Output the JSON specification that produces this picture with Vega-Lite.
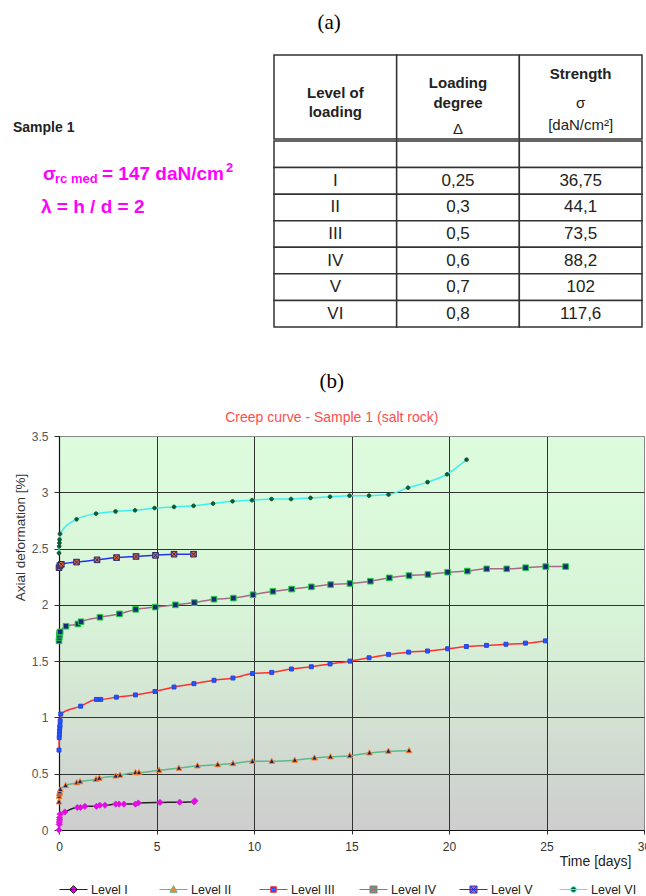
{
  "$schema": "https://vega.github.io/schema/vega-lite/v6.json",
  "padding": {"left": 12, "top": 12, "right": 0, "bottom": 0},
  "background": "white",
  "config": {"font": "Liberation Sans", "view": {"stroke": null}},
  "title": {"text": "(a)", "font": "Liberation Serif", "fontSize": 21, "fontWeight": "normal", "color": "#000", "anchor": "start", "dx": 305, "baseline": "alphabetic", "offset": 4},
  "columns": 1,
  "spacing": 42,
  "datasets": {
    "header": [
      {"col": "level", "b": "Level of\nloading", "r": ""},
      {"col": "degree", "b": "Loading\ndegree", "r": "Δ"},
      {"col": "strength", "b": "Strength", "r": "σ\n[daN/cm²]"}
    ],
    "table": [
      {"level": " ", "degree": "", "strength": ""},
      {"level": "I", "degree": "0,25", "strength": "36,75"},
      {"level": "II", "degree": "0,3", "strength": "44,1"},
      {"level": "III", "degree": "0,5", "strength": "73,5"},
      {"level": "IV", "degree": "0,6", "strength": "88,2"},
      {"level": "V", "degree": "0,7", "strength": "102"},
      {"level": "VI", "degree": "0,8", "strength": "117,6"}
    ],
    "notes": [
      {"level": "I", "main": "σ", "sub": "rc med", "rest": "= 147 daN/cm", "sup": "2", "lam": ""},
      {"level": "II", "main": "", "sub": "", "rest": "", "sup": "", "lam": "λ = h / d = 2"}
    ],
    "creep": [
      {"s": "Level I", "t": 0, "v": 0.0},
      {"s": "Level I", "t": 0.01, "v": 0.05},
      {"s": "Level I", "t": 0.02, "v": 0.07},
      {"s": "Level I", "t": 0.03, "v": 0.09},
      {"s": "Level I", "t": 0.04, "v": 0.11},
      {"s": "Level I", "t": 0.06, "v": 0.14},
      {"s": "Level I", "t": 0.3, "v": 0.16},
      {"s": "Level I", "t": 0.94, "v": 0.2},
      {"s": "Level I", "t": 1.1, "v": 0.2},
      {"s": "Level I", "t": 1.33, "v": 0.21},
      {"s": "Level I", "t": 1.92, "v": 0.21},
      {"s": "Level I", "t": 2.09, "v": 0.22},
      {"s": "Level I", "t": 2.36, "v": 0.22},
      {"s": "Level I", "t": 2.91, "v": 0.23},
      {"s": "Level I", "t": 3.08, "v": 0.23},
      {"s": "Level I", "t": 3.33, "v": 0.23},
      {"s": "Level I", "t": 3.92, "v": 0.23},
      {"s": "Level I", "t": 4.07, "v": 0.24},
      {"s": "Level I", "t": 5.18, "v": 0.245},
      {"s": "Level I", "t": 6.19, "v": 0.247},
      {"s": "Level I", "t": 6.92, "v": 0.25},
      {"s": "Level I", "t": 6.97, "v": 0.26},
      {"s": "Level II", "t": 0, "v": 0.25},
      {"s": "Level II", "t": 0.01, "v": 0.3},
      {"s": "Level II", "t": 0.02, "v": 0.32},
      {"s": "Level II", "t": 0.03, "v": 0.33},
      {"s": "Level II", "t": 0.04, "v": 0.34},
      {"s": "Level II", "t": 0.07, "v": 0.36},
      {"s": "Level II", "t": 0.34, "v": 0.395},
      {"s": "Level II", "t": 0.91, "v": 0.42},
      {"s": "Level II", "t": 1.08, "v": 0.43},
      {"s": "Level II", "t": 1.9, "v": 0.45},
      {"s": "Level II", "t": 2.07, "v": 0.46},
      {"s": "Level II", "t": 2.91, "v": 0.48},
      {"s": "Level II", "t": 3.13, "v": 0.487},
      {"s": "Level II", "t": 3.92, "v": 0.51},
      {"s": "Level II", "t": 4.1, "v": 0.51},
      {"s": "Level II", "t": 5.13, "v": 0.53},
      {"s": "Level II", "t": 6.15, "v": 0.55},
      {"s": "Level II", "t": 7.1, "v": 0.57},
      {"s": "Level II", "t": 8.14, "v": 0.58},
      {"s": "Level II", "t": 8.92, "v": 0.59},
      {"s": "Level II", "t": 9.92, "v": 0.61},
      {"s": "Level II", "t": 10.91, "v": 0.61},
      {"s": "Level II", "t": 12.09, "v": 0.62},
      {"s": "Level II", "t": 13.1, "v": 0.64},
      {"s": "Level II", "t": 13.92, "v": 0.65},
      {"s": "Level II", "t": 14.91, "v": 0.66},
      {"s": "Level II", "t": 15.92, "v": 0.685},
      {"s": "Level II", "t": 16.89, "v": 0.7},
      {"s": "Level II", "t": 17.95, "v": 0.705},
      {"s": "Level III", "t": 0, "v": 0.71},
      {"s": "Level III", "t": 0.01, "v": 0.82},
      {"s": "Level III", "t": 0.02, "v": 0.85},
      {"s": "Level III", "t": 0.03, "v": 0.88},
      {"s": "Level III", "t": 0.04, "v": 0.91},
      {"s": "Level III", "t": 0.05, "v": 0.93},
      {"s": "Level III", "t": 0.06, "v": 0.97},
      {"s": "Level III", "t": 0.09, "v": 1.03},
      {"s": "Level III", "t": 1.11, "v": 1.1},
      {"s": "Level III", "t": 1.92, "v": 1.16},
      {"s": "Level III", "t": 2.14, "v": 1.16},
      {"s": "Level III", "t": 2.94, "v": 1.18},
      {"s": "Level III", "t": 3.92, "v": 1.2},
      {"s": "Level III", "t": 4.92, "v": 1.23},
      {"s": "Level III", "t": 5.9, "v": 1.27},
      {"s": "Level III", "t": 6.92, "v": 1.3},
      {"s": "Level III", "t": 7.95, "v": 1.33},
      {"s": "Level III", "t": 8.92, "v": 1.35},
      {"s": "Level III", "t": 9.92, "v": 1.39},
      {"s": "Level III", "t": 10.91, "v": 1.4},
      {"s": "Level III", "t": 11.92, "v": 1.43},
      {"s": "Level III", "t": 12.94, "v": 1.45},
      {"s": "Level III", "t": 13.9, "v": 1.475},
      {"s": "Level III", "t": 14.92, "v": 1.5},
      {"s": "Level III", "t": 15.9, "v": 1.53},
      {"s": "Level III", "t": 16.9, "v": 1.56},
      {"s": "Level III", "t": 17.93, "v": 1.58},
      {"s": "Level III", "t": 18.9, "v": 1.59},
      {"s": "Level III", "t": 19.93, "v": 1.61},
      {"s": "Level III", "t": 20.89, "v": 1.63},
      {"s": "Level III", "t": 21.92, "v": 1.64},
      {"s": "Level III", "t": 22.92, "v": 1.65},
      {"s": "Level III", "t": 23.92, "v": 1.66},
      {"s": "Level III", "t": 24.94, "v": 1.68},
      {"s": "Level IV", "t": 0, "v": 1.68},
      {"s": "Level IV", "t": 0.01, "v": 1.71},
      {"s": "Level IV", "t": 0.02, "v": 1.73},
      {"s": "Level IV", "t": 0.03, "v": 1.75},
      {"s": "Level IV", "t": 0.06, "v": 1.76},
      {"s": "Level IV", "t": 0.36, "v": 1.81},
      {"s": "Level IV", "t": 0.97, "v": 1.83},
      {"s": "Level IV", "t": 1.13, "v": 1.85},
      {"s": "Level IV", "t": 2.1, "v": 1.89},
      {"s": "Level IV", "t": 3.1, "v": 1.92},
      {"s": "Level IV", "t": 3.93, "v": 1.96},
      {"s": "Level IV", "t": 4.94, "v": 1.98},
      {"s": "Level IV", "t": 5.97, "v": 2.0},
      {"s": "Level IV", "t": 6.94, "v": 2.02},
      {"s": "Level IV", "t": 7.95, "v": 2.05},
      {"s": "Level IV", "t": 8.94, "v": 2.06},
      {"s": "Level IV", "t": 9.95, "v": 2.09},
      {"s": "Level IV", "t": 10.97, "v": 2.12},
      {"s": "Level IV", "t": 11.93, "v": 2.14},
      {"s": "Level IV", "t": 12.94, "v": 2.16},
      {"s": "Level IV", "t": 13.93, "v": 2.18},
      {"s": "Level IV", "t": 14.92, "v": 2.19},
      {"s": "Level IV", "t": 15.97, "v": 2.21},
      {"s": "Level IV", "t": 16.94, "v": 2.24},
      {"s": "Level IV", "t": 17.95, "v": 2.26},
      {"s": "Level IV", "t": 18.92, "v": 2.27},
      {"s": "Level IV", "t": 19.93, "v": 2.29},
      {"s": "Level IV", "t": 20.94, "v": 2.3},
      {"s": "Level IV", "t": 21.93, "v": 2.32},
      {"s": "Level IV", "t": 22.96, "v": 2.32},
      {"s": "Level IV", "t": 23.93, "v": 2.33},
      {"s": "Level IV", "t": 24.96, "v": 2.34},
      {"s": "Level IV", "t": 25.98, "v": 2.34},
      {"s": "Level V", "t": 0, "v": 2.33},
      {"s": "Level V", "t": 0.05, "v": 2.35},
      {"s": "Level V", "t": 0.12, "v": 2.36},
      {"s": "Level V", "t": 0.9, "v": 2.38},
      {"s": "Level V", "t": 1.95, "v": 2.4},
      {"s": "Level V", "t": 2.95, "v": 2.42},
      {"s": "Level V", "t": 3.95, "v": 2.43},
      {"s": "Level V", "t": 4.95, "v": 2.44},
      {"s": "Level V", "t": 5.9, "v": 2.45},
      {"s": "Level V", "t": 6.9, "v": 2.45},
      {"s": "Level VI", "t": 0, "v": 2.46},
      {"s": "Level VI", "t": 0.01, "v": 2.52},
      {"s": "Level VI", "t": 0.02, "v": 2.55},
      {"s": "Level VI", "t": 0.03, "v": 2.58},
      {"s": "Level VI", "t": 0.05, "v": 2.63},
      {"s": "Level VI", "t": 0.9, "v": 2.76},
      {"s": "Level VI", "t": 1.9, "v": 2.81},
      {"s": "Level VI", "t": 2.9, "v": 2.83},
      {"s": "Level VI", "t": 3.9, "v": 2.84},
      {"s": "Level VI", "t": 4.9, "v": 2.86},
      {"s": "Level VI", "t": 5.9, "v": 2.87},
      {"s": "Level VI", "t": 6.9, "v": 2.88},
      {"s": "Level VI", "t": 7.9, "v": 2.9},
      {"s": "Level VI", "t": 8.9, "v": 2.92},
      {"s": "Level VI", "t": 9.9, "v": 2.93},
      {"s": "Level VI", "t": 10.9, "v": 2.94},
      {"s": "Level VI", "t": 11.9, "v": 2.94},
      {"s": "Level VI", "t": 12.9, "v": 2.95},
      {"s": "Level VI", "t": 13.9, "v": 2.96},
      {"s": "Level VI", "t": 14.9, "v": 2.97},
      {"s": "Level VI", "t": 15.9, "v": 2.97},
      {"s": "Level VI", "t": 16.9, "v": 2.98},
      {"s": "Level VI", "t": 17.9, "v": 3.04},
      {"s": "Level VI", "t": 18.9, "v": 3.09},
      {"s": "Level VI", "t": 19.9, "v": 3.16},
      {"s": "Level VI", "t": 20.9, "v": 3.29}
    ]
  },
  "concat": [
    {
      "columns": 2,
      "spacing": {"column": 10, "row": 0},
      "concat": [
        {
          "width": 204, "height": 84,
          "data": {"values": [{"t": "Sample 1"}]},
          "mark": {"type": "text", "align": "left", "baseline": "middle", "dx": -148, "dy": 31, "fontSize": 14, "fontWeight": "bold", "color": "#222"},
          "encoding": {"text": {"field": "t"}}
        },
        {
          "width": 368, "height": 84,
          "data": {"name": "header"},
          "encoding": {"x": {"field": "col", "type": "nominal", "axis": null, "scale": {"domain": ["level", "degree", "strength"], "paddingInner": 0, "paddingOuter": 0}}},
          "layer": [
            {"mark": {"type": "rect", "fill": "white", "stroke": "#333", "strokeWidth": 1.5}},
            {"transform": [{"filter": "datum.col === 'level'"}], "mark": {"type": "text", "fontSize": 15, "fontWeight": "bold", "lineBreak": "\n", "lineHeight": 19, "baseline": "middle", "dy": -4, "color": "#222"}, "encoding": {"text": {"field": "b"}}},
            {"transform": [{"filter": "datum.col === 'degree'"}], "mark": {"type": "text", "fontSize": 15, "fontWeight": "bold", "lineBreak": "\n", "lineHeight": 20, "baseline": "middle", "dy": -14, "color": "#222"}, "encoding": {"text": {"field": "b"}}},
            {"transform": [{"filter": "datum.col === 'degree'"}], "mark": {"type": "text", "fontSize": 15, "fontWeight": "normal", "baseline": "middle", "dy": 32, "color": "#222"}, "encoding": {"text": {"field": "r"}}},
            {"transform": [{"filter": "datum.col === 'strength'"}], "mark": {"type": "text", "fontSize": 15, "fontWeight": "bold", "baseline": "middle", "dy": -23, "color": "#222"}, "encoding": {"text": {"field": "b"}}},
            {"transform": [{"filter": "datum.col === 'strength'"}], "mark": {"type": "text", "fontSize": 15, "fontWeight": "normal", "lineBreak": "\n", "lineHeight": 22, "baseline": "middle", "dy": 6, "color": "#222"}, "encoding": {"text": {"field": "r"}}}
          ]
        },
        {
          "width": 204, "height": 186,
          "data": {"name": "notes"},
          "encoding": {"y": {"field": "level", "type": "nominal", "axis": null, "scale": {"domain": [" ", "I", "II", "III", "IV", "V", "VI"], "paddingInner": 0, "paddingOuter": 0}}},
          "layer": [
            {"mark": {"type": "text", "align": "left", "baseline": "middle", "dx": -118, "dy": -7, "fontSize": 19, "fontWeight": "bold", "color": "#FF00FF"}, "encoding": {"text": {"field": "main"}}},
            {"mark": {"type": "text", "align": "left", "baseline": "middle", "dx": -106, "dy": -2, "fontSize": 13, "fontWeight": "bold", "color": "#FF00FF"}, "encoding": {"text": {"field": "sub"}}},
            {"mark": {"type": "text", "align": "left", "baseline": "middle", "dx": -59, "dy": -7, "fontSize": 19, "fontWeight": "bold", "color": "#FF00FF"}, "encoding": {"text": {"field": "rest"}}},
            {"mark": {"type": "text", "align": "left", "baseline": "middle", "dx": 65, "dy": -13, "fontSize": 13, "fontWeight": "bold", "color": "#FF00FF"}, "encoding": {"text": {"field": "sup"}}},
            {"mark": {"type": "text", "align": "left", "baseline": "middle", "dx": -120, "dy": 0, "fontSize": 19, "fontWeight": "bold", "color": "#FF00FF"}, "encoding": {"text": {"field": "lam"}}}
          ]
        },
        {
          "width": 368, "height": 186,
          "data": {"name": "table"},
          "transform": [{"fold": ["level", "degree", "strength"], "as": ["col", "txt"]}],
          "encoding": {
            "x": {"field": "col", "type": "nominal", "axis": null, "scale": {"domain": ["level", "degree", "strength"], "paddingInner": 0, "paddingOuter": 0}},
            "y": {"field": "level", "type": "nominal", "axis": null, "scale": {"domain": [" ", "I", "II", "III", "IV", "V", "VI"], "paddingInner": 0, "paddingOuter": 0}}
          },
          "layer": [
            {"mark": {"type": "rect", "fill": "white", "stroke": "#333", "strokeWidth": 1.5}},
            {"mark": {"type": "text", "fontSize": 17, "baseline": "middle", "color": "#222"}, "encoding": {"text": {"field": "txt"}}}
          ]
        }
      ]
    },
    {
      "width": 585,
      "height": 394,
      "title": {"text": "(b)", "subtitle": "Creep curve - Sample 1 (salt rock)", "anchor": "middle", "frame": "bounds", "font": "Liberation Serif", "fontSize": 21, "fontWeight": "normal", "color": "#000", "baseline": "alphabetic", "subtitleFont": "Liberation Sans", "subtitleFontSize": 14, "subtitleColor": "#FF4D4D", "subtitlePadding": 13, "offset": -12},
      "view": {"stroke": "#888", "strokeWidth": 1, "fill": {"gradient": "linear", "x1": 0, "y1": 0, "x2": 0, "y2": 1, "stops": [{"offset": 0, "color": "#DDFCDD"}, {"offset": 0.45, "color": "#D8F4D8"}, {"offset": 1, "color": "#CDCDCD"}]}},
      "data": {"name": "creep"},
      "encoding": {
        "x": {"field": "t", "type": "quantitative", "scale": {"domain": [0, 30], "nice": false},
          "axis": {"values": [0, 5, 10, 15, 20, 25, 30], "format": "d", "title": "Time [days]", "grid": true,
            "gridColor": {"condition": {"test": "datum.value === 30", "value": "#888"}, "value": "#333"}, "gridWidth": 1,
            "domainColor": "#111", "domainWidth": 1.2, "tickColor": "#333", "tickSize": 4, "labelPadding": 7,
            "labelFont": "Liberation Sans", "labelFontSize": 12, "labelColor": "#333", "labelFlush": false, "labelOverlap": false,
            "titleFont": "Liberation Sans", "titleFontSize": 14, "titleFontWeight": "normal", "titleColor": "#222",
            "titleAlign": "right", "titleBaseline": "middle", "titleX": 572, "titleY": 31}},
        "y": {"field": "v", "type": "quantitative", "scale": {"domain": [0, 3.5], "nice": false},
          "axis": {"values": [0, 0.5, 1, 1.5, 2, 2.5, 3, 3.5], "format": "~g", "title": "Axial deformation [%]", "grid": true,
            "gridColor": {"condition": {"test": "datum.value === 3.5", "value": "#888"}, "value": "#333"}, "gridWidth": 1,
            "domainColor": "#111", "domainWidth": 1.2, "tickColor": "#333", "tickSize": 5, "labelPadding": 6,
            "labelFont": "Liberation Sans", "labelFontSize": 12, "labelColor": "#555", "labelFlush": false, "labelOverlap": false,
            "titleFont": "Liberation Sans", "titleFontSize": 13.5, "titleFontWeight": "normal", "titleColor": "#333",
            "titleAlign": "center", "titleBaseline": "middle", "titleX": -39, "titleY": 101}}
      },
      "layer": [
        {
          "mark": {"type": "line", "strokeWidth": 1.5, "interpolate": "monotone"},
          "encoding": {
            "color": {"field": "s", "type": "nominal",
              "scale": {"domain": ["Level I", "Level II", "Level III", "Level IV", "Level V", "Level VI"], "range": ["#222222", "#5DB88A", "#FF3030", "#A86A86", "#2233EE", "#3FEFEF"]},
              "legend": {"title": null, "orient": "bottom", "offset": 6, "direction": "horizontal", "columns": 6, "gridAlign": "all", "columnPadding": 20, "padding": 0,
                "symbolType": "M-1,0H1", "symbolSize": 784, "symbolStrokeWidth": 1, "labelFont": "Liberation Sans", "labelFontSize": 12.5, "labelColor": "#222", "labelOffset": 3,
                "encode": {"symbols": {"update": {
                  "shape": {"signal": "{'Level I': 'M-1,0H1M0,-0.28L0.28,0L0,0.28L-0.28,0Z', 'Level II': 'M-1,0H1M0,-0.28L0.26,0.2L-0.26,0.2Z', 'Level III': 'M-1,0H1M-0.2,-0.2H0.2V0.2H-0.2Z', 'Level IV': 'M-1,0H1M-0.25,-0.25H0.25V0.25H-0.25ZM-0.25,-0.25L0.25,0.25M-0.25,0.25L0.25,-0.25', 'Level V': 'M-1,0H1M-0.25,-0.25H0.25V0.25H-0.25ZM-0.25,-0.25L0.25,0.25M-0.25,0.25L0.25,-0.25', 'Level VI': 'M-1,0H1M-0.2,0A0.2,0.2,0,1,1,0.2,0A0.2,0.2,0,1,1,-0.2,0Z'}[datum.value]"},
                  "fill": {"signal": "{'Level I': '#EE00EE', 'Level II': '#FF7F27', 'Level III': '#2255FF', 'Level IV': '#22CC44', 'Level V': '#E06A3A', 'Level VI': '#0B5A30'}[datum.value]"},
                  "fillOpacity": {"value": 1}
                }}}
              }
            }
          }
        },
        {
          "mark": {"type": "point", "filled": true, "size": 784, "strokeWidth": 1, "opacity": 1},
          "encoding": {
            "shape": {"field": "s", "type": "nominal", "legend": null,
              "scale": {"range": ["M0,-0.22L0.22,0L0,0.22L-0.22,0Z", "M0,-0.22L0.2,0.15L-0.2,0.15Z", "M-0.14,-0.14H0.14V0.14H-0.14Z", "M-0.2,-0.2H0.2V0.2H-0.2Z", "M-0.2,-0.2H0.2V0.2H-0.2ZM-0.2,-0.2L0.2,0.2M-0.2,0.2L0.2,-0.2", "M-0.13,0A0.13,0.13,0,1,1,0.13,0A0.13,0.13,0,1,1,-0.13,0Z"]}},
            "fill": {"field": "s", "type": "nominal", "legend": null,
              "scale": {"range": ["#EE00EE", "#222266", "#2255FF", "#1A2A7A", "#E06A3A", "#0B5A30"]}},
            "stroke": {"field": "s", "type": "nominal", "legend": null,
              "scale": {"range": ["#CC33CC", "#FF7F27", "#2244DD", "#22CC44", "#2A2A6A", "#0B5A30"]}}
          }
        }
      ]
    }
  ]
}
